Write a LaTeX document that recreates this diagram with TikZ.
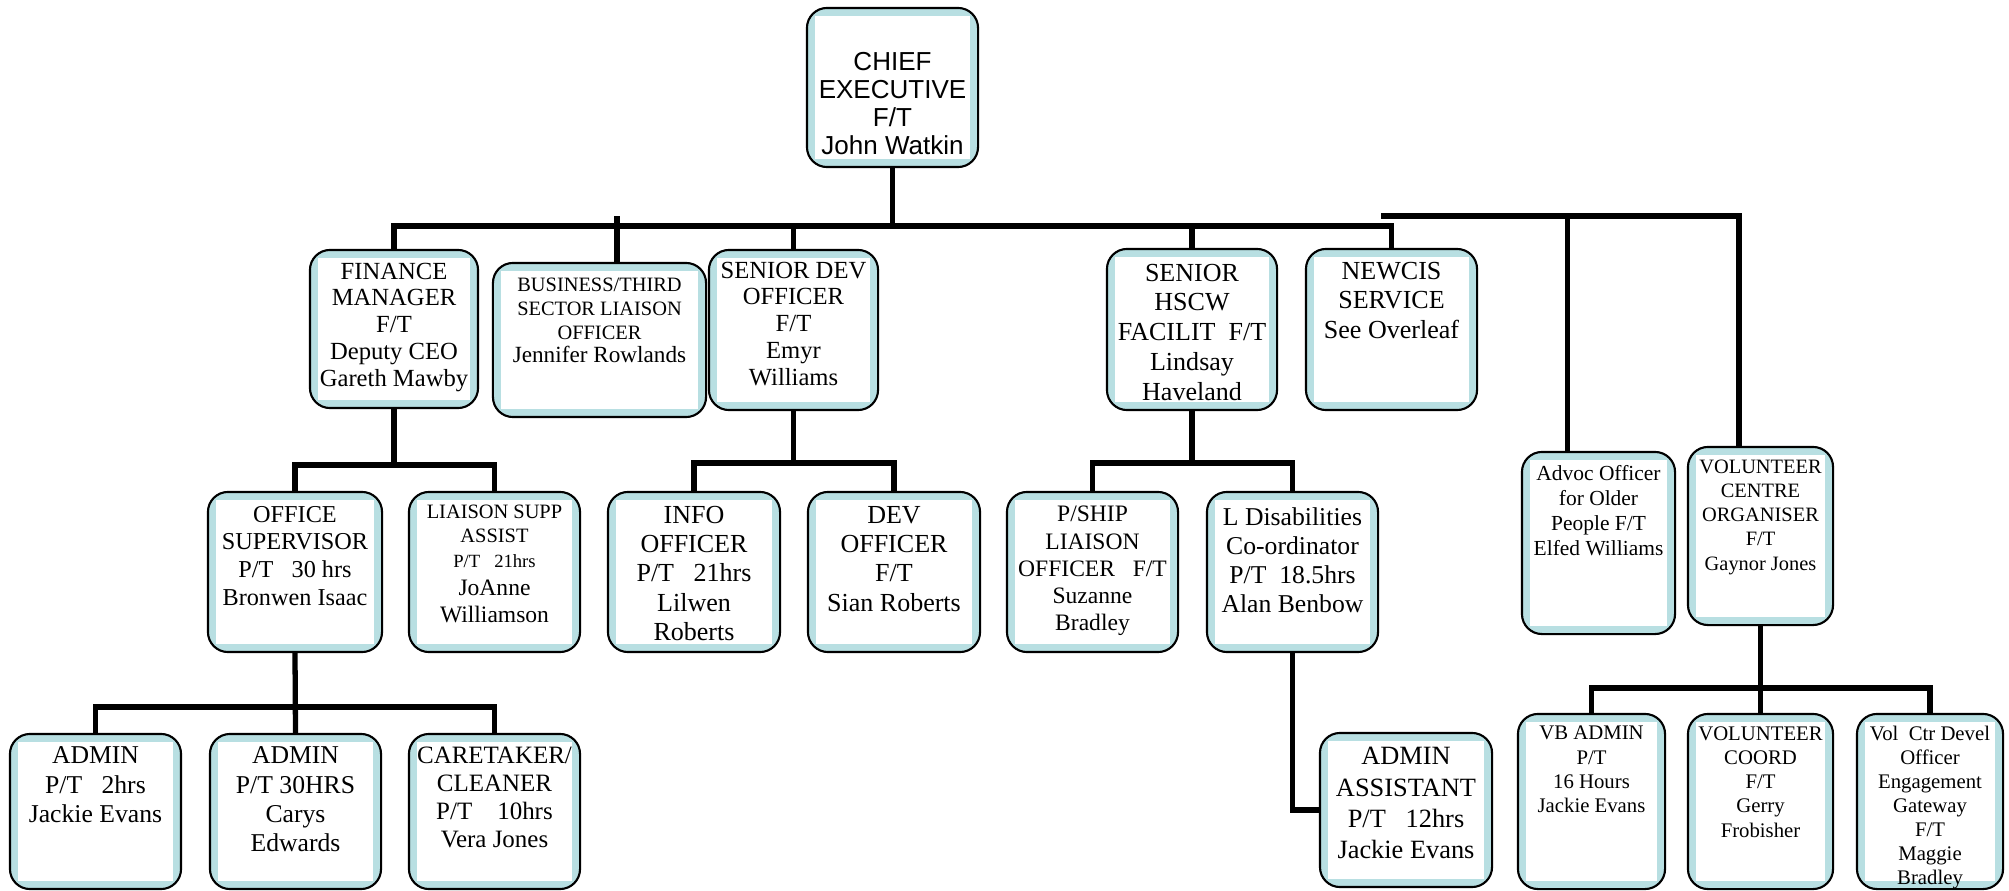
\documentclass[tikz,border=0pt]{standalone}
\usepackage{fontspec}
\setmainfont{Liberation Serif}
\newfontfamily\arialfont{Liberation Sans}
\usepackage{tikz}
\usepackage{xcolor}

\definecolor{boxblue}{RGB}{184,223,226}

\newcommand{\fceo}{\arialfont\fontsize{7.4}{8}\selectfont}
\newcommand{\orgtext}[4]{%
  \begin{minipage}[c][#2][t]{#1}\centering\vspace*{#3}#4\par\end{minipage}}

\tikzset{
  orgbox/.style={draw, line width=0.6pt, rounded corners=0.2cm, fill=boxblue, inner sep=0pt,
    path picture={\fill[white, sharp corners]
      ([xshift=0.08cm,yshift=0.085cm]path picture bounding box.south west) rectangle
      ([xshift=-0.085cm,yshift=-0.085cm]path picture bounding box.north east);}},
  tsize/.style 2 args={font=\fontsize{#1}{#2}\selectfont},
  link/.style={line width=1.5pt},
}

\begin{document}
\begin{tikzpicture}[x=0.01cm,y=-0.01cm]
  \path[use as bounding box, fill=white] (0,0) rectangle (2009,891);

  % chief executive
  \node[orgbox, font=\fceo] (ceo) at (892.5,87.5)
    {\orgtext{1.71cm}{1.59cm}{0.44cm}{CHIEF\\EXECUTIVE\\F/T\\John Watkin}};

  % first level
  \node[orgbox, tsize={7}{7.6}] (fin) at (394,329)
    {\orgtext{1.68cm}{1.58cm}{0.13cm}{FINANCE\\MANAGER\\F/T\\Deputy CEO\\Gareth Mawby}};
  \node[orgbox, tsize={5.8}{6.7}] (bus) at (599.5,340)
    {\orgtext{2.13cm}{1.54cm}{0.155cm}{BUSINESS/THIRD\\SECTOR LIAISON\\OFFICER\\{\fontsize{6.6}{7.4}\selectfont Jennifer Rowlands}}};
  \node[orgbox, tsize={7}{7.6}] (sdev) at (793.5,330)
    {\orgtext{1.69cm}{1.6cm}{0.12cm}{SENIOR DEV\\OFFICER\\F/T\\Emyr\\Williams}};
  \node[orgbox, tsize={7.4}{8.45}] (hscw) at (1192,329.5)
    {\orgtext{1.7cm}{1.61cm}{0.15cm}{SENIOR\\HSCW\\FACILIT\ \ F/T\\Lindsay\\Haveland}};
  \node[orgbox, tsize={7.4}{8.45}] (newcis) at (1391.5,329.5)
    {\orgtext{1.71cm}{1.61cm}{0.13cm}{NEWCIS\\SERVICE\\See Overleaf}};
  \node[orgbox, tsize={6.1}{7.1}] (advoc) at (1598.5,543)
    {\orgtext{1.53cm}{1.82cm}{0.134cm}{Advoc Officer\\for Older\\People F/T\\Elfed Williams}};
  \node[orgbox, tsize={5.8}{6.9}] (volc) at (1760.5,536)
    {\orgtext{1.45cm}{1.78cm}{0.126cm}{VOLUNTEER\\CENTRE\\ORGANISER\\F/T\\Gaynor Jones}};

  % second level
  \node[orgbox, tsize={6.9}{7.9}] (offsup) at (295,572)
    {\orgtext{1.74cm}{1.6cm}{0.14cm}{OFFICE\\SUPERVISOR\\P/T\ \ \ 30 hrs\\Bronwen Isaac}};
  \node[orgbox, tsize={5.8}{7}] (liaison) at (494.5,572)
    {\orgtext{1.71cm}{1.6cm}{0.126cm}{LIAISON SUPP\\ASSIST\\{\fontsize{5.3}{7}\selectfont P/T\ \ \ 21hrs}\par
      {\fontsize{6.7}{7.9}\selectfont JoAnne\\Williamson\par}}};
  \node[orgbox, tsize={7.4}{8.35}] (info) at (694,572)
    {\orgtext{1.72cm}{1.6cm}{0.14cm}{INFO\\OFFICER\\P/T\ \ \ 21hrs\\Lilwen\\Roberts}};
  \node[orgbox, tsize={7.4}{8.35}] (dev) at (894,572)
    {\orgtext{1.72cm}{1.6cm}{0.14cm}{DEV\\OFFICER\\F/T\\Sian Roberts}};
  \node[orgbox, tsize={6.7}{7.7}] (pship) at (1092.5,572)
    {\orgtext{1.71cm}{1.6cm}{0.144cm}{P/SHIP\\LIAISON\\OFFICER\ \ \ F/T\\Suzanne\\Bradley}};
  \node[orgbox, tsize={7.3}{8.25}] (ldis) at (1292.5,572)
    {\orgtext{1.71cm}{1.6cm}{0.155cm}{L Disabilities\\Co-ordinator\\P/T\ \ 18.5hrs\\Alan Benbow}};

  % third level
  \node[orgbox, tsize={7.3}{8.3}] (adm1) at (95.5,811.5)
    {\orgtext{1.71cm}{1.55cm}{0.13cm}{ADMIN\\P/T\ \ \ 2hrs\\Jackie Evans}};
  \node[orgbox, tsize={7.3}{8.3}] (adm2) at (295.5,811.5)
    {\orgtext{1.71cm}{1.55cm}{0.13cm}{ADMIN\\P/T 30HRS\\Carys\\Edwards}};
  \node[orgbox, tsize={7.1}{8}] (care) at (494.5,811.5)
    {\orgtext{1.71cm}{1.55cm}{0.13cm}{CARETAKER/\\CLEANER\\P/T\ \ \ \ 10hrs\\Vera Jones}};
  \node[orgbox, tsize={7.5}{8.9}] (admass) at (1406,810)
    {\orgtext{1.72cm}{1.54cm}{0.145cm}{ADMIN\\ASSISTANT\\P/T\ \ \ 12hrs\\Jackie Evans}};
  \node[orgbox, tsize={5.9}{6.9}] (vbadm) at (1591.5,801.5)
    {\orgtext{1.47cm}{1.75cm}{0.123cm}{VB ADMIN\\P/T\\16 Hours\\Jackie Evans}};
  \node[orgbox, tsize={5.9}{6.9}] (volco) at (1760.5,801.5)
    {\orgtext{1.45cm}{1.75cm}{0.123cm}{VOLUNTEER\\COORD\\F/T\\Gerry\\Frobisher}};
  \node[orgbox, tsize={5.9}{6.8}] (volctr) at (1930,801.5)
    {\orgtext{1.46cm}{1.75cm}{0.123cm}{Vol\ \ Ctr Devel\\Officer\\Engagement\\Gateway\\F/T\\Maggie\\Bradley}};

  % connectors
  \coordinate (bar) at (0,226);
  \coordinate (hbar) at (0,216);
  \coordinate (hbarL) at (1381,216);
  \coordinate (busdrop) at ([xshift=0.175cm]bus.north);
  \coordinate (advocdrop) at ([xshift=-0.31cm]advoc.north);
  \coordinate (volcdrop) at ([xshift=-0.215cm]volc.north);

  \draw[link] (ceo.south) -- (ceo.south |- bar);
  \draw[link] (fin.north) -- (fin.north |- bar) -- (newcis.north |- bar) -- (newcis.north);
  \foreach \n in {sdev, hscw} \draw[link] (\n.north) -- (\n.north |- bar);
  \draw[link] (busdrop) -- (busdrop |- hbar);
  \draw[link] (hbarL) -- (volcdrop |- hbar) -- (volcdrop);
  \draw[link] (advocdrop) -- (advocdrop |- hbar);

  \draw[link] (fin.south) -- ++(0,58);
  \draw[link] (offsup.north) -- ++(0,-26) -| (liaison.north);
  \draw[link] (sdev.south) -- ++(0,54);
  \draw[link] (info.north) -- ++(0,-28) -| (dev.north);
  \draw[link] (hscw.south) -- ++(0,54);
  \draw[link] (pship.north) -- ++(0,-28) -| (ldis.north);

  \draw[link] (offsup.south) -- (adm2.north);
  \draw[link] (adm1.north) -- ++(0,-26) -| (care.north);
  \draw[link] (ldis.south) |- (admass.west);
  \draw[link] (volc.south) -- (volco.north);
  \draw[link] (vbadm.north) -- ++(0,-25) -| (volctr.north);
\end{tikzpicture}
\end{document}
